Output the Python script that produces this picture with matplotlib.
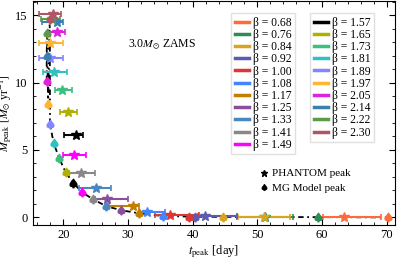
import matplotlib
matplotlib.use('Agg')
import matplotlib.pyplot as plt
from matplotlib.lines import Line2D
from matplotlib.ticker import MultipleLocator
from matplotlib.textpath import TextPath
from matplotlib.font_manager import FontProperties
from matplotlib.path import Path

plt.rcParams['font.family'] = ['Liberation Serif', 'DejaVu Serif']
plt.rcParams['mathtext.fontset'] = 'stix'

betas = [0.68, 0.76, 0.84, 0.92, 1.00, 1.08, 1.17, 1.25, 1.33, 1.41, 1.49,
         1.57, 1.65, 1.73, 1.81, 1.89, 1.97, 2.05, 2.14, 2.22, 2.30]
colors = ['#ff6a3d', '#2e8b57', '#d9a520', '#5b5bb0', '#e03535', '#3f86ff',
          '#c07f00', '#8a4f9c', '#4a86c0', '#888888', '#ff00ff',
          '#000000', '#b0b000', '#3cbf80', '#30c0c0', '#8585ff', '#ffb531',
          '#e020e0', '#3a80ad', '#5a9a4a', '#b05565']

# PHANTOM peak (star) with horizontal error range
star_t = [63.4, 51.2, 51.0, 41.9, 36.5, 32.9, 30.7, 26.7, 25.0, 22.8, 21.65,
          21.96, 20.77, 19.75, 18.6, 17.94, 17.94, 18.98, 18.98, 18.25, 18.45]
star_lo = [60.1, 46.8, 47.0, 40.8, 34.2, 31.75, 27.1, 24.9, 22.4, 20.8, 19.9,
           20.1, 19.5, 18.7, 16.8, 16.3, 16.3, 17.6, 16.7, 16.5, 16.3]
star_hi = [69.1, 55.5, 55.0, 46.8, 41.0, 35.8, 31.75, 29.95, 27.3, 24.9, 23.5,
           23.05, 22.15, 21.3, 20.5, 19.9, 20.0, 20.25, 20.0, 19.5, 19.6]
star_M = [0.0, 0.02, 0.03, 0.1, 0.17, 0.41, 0.84, 1.36, 2.17, 3.28, 4.61,
          6.1, 7.8, 9.48, 10.79, 11.85, 12.93, 13.75, 14.49, 14.74, 15.06]

# MG model peak (spade)
mg_t = [70.2, 59.4, 44.7, 40.4, 39.5, 35.46, 31.75, 28.87, 26.6, 24.54, 22.92,
        21.55, 20.34, 19.37, 18.49, 17.94, 17.64, 17.43, 17.43, 17.48, 17.9]
mg_M = [0.0, 0.02, 0.04, 0.05, 0.06, 0.1, 0.3, 0.54, 0.84, 1.36, 1.86,
        2.54, 3.36, 4.37, 5.53, 6.91, 8.39, 10.1, 12.0, 13.65, 14.7]

# spade marker path built from the DejaVu Sans glyph
_tp = TextPath((0, 0), '\u2660', size=10, prop=FontProperties(family='DejaVu Sans'))
_ext = _tp.get_extents()
_cx, _cy = (_ext.x0 + _ext.x1) / 2, (_ext.y0 + _ext.y1) / 2
spade = Path(_tp.vertices - [_cx, _cy], _tp.codes)

fig = plt.figure(figsize=(3.97, 2.59), dpi=100)
ax = fig.add_axes([0.082, 0.133, 0.913, 0.863])

order = sorted(range(len(betas)), key=lambda i: mg_t[i])
ax.plot([mg_t[i] for i in order], [mg_M[i] for i in order], color='black',
        lw=1.3, ls=(0, (3, 2, 1, 2)), zorder=1)

handles = []
for i, b in enumerate(betas):
    c = colors[i]
    ax.errorbar([star_t[i]], [star_M[i]],
                xerr=[[star_t[i] - star_lo[i]], [star_hi[i] - star_t[i]]],
                fmt='*', color=c, ms=7.5, lw=1.5, capsize=2.5, capthick=1.2,
                zorder=3)
    ax.plot([mg_t[i]], [mg_M[i]], marker=spade, color=c, ms=7.5,
            ls='none', zorder=4)
    handles.append(Line2D([], [], color=c, lw=2.5, label=f'\u03b2 = {b:.2f}'))

ax.set_xlim(15.24, 71.3)
ax.set_ylim(-0.53, 16.04)
ax.xaxis.set_major_locator(MultipleLocator(10))
ax.xaxis.set_minor_locator(MultipleLocator(2))
ax.yaxis.set_major_locator(MultipleLocator(5))
ax.yaxis.set_minor_locator(MultipleLocator(1))
ax.tick_params(which='both', direction='in', top=True, right=True, labelsize=9)
ax.tick_params(which='major', length=4)
ax.tick_params(which='minor', length=2)

ax.set_xlabel(r'$t_{\rm peak}$ [day]', fontsize=9, labelpad=1)
ax.set_ylabel(r'$\dot{M}_{\rm peak}$ [$M_{\odot}$ yr$^{-1}$]', fontsize=8.5,
              labelpad=1)

ax.text(0.263, 0.803, r'3.0$M_{\odot}$ ZAMS', transform=ax.transAxes,
        fontsize=8.5, ha='left', va='center')

leg_kw = dict(fontsize=8.4, labelspacing=0.02, handlelength=1.25,
              handletextpad=0.35, borderpad=0.3, borderaxespad=0,
              frameon=True, fancybox=False, framealpha=1, edgecolor='#e0e0e0')
leg1 = ax.legend(handles=handles[:11], loc='upper left',
                 bbox_to_anchor=(0.548, 0.946), **leg_kw)
ax.add_artist(leg1)
leg2 = ax.legend(handles=handles[11:], loc='upper left',
                 bbox_to_anchor=(0.766, 0.946), **leg_kw)
ax.add_artist(leg2)

mk = [Line2D([], [], marker='*', color='black', ls='none', ms=5,
             label='PHANTOM peak'),
      Line2D([], [], marker=spade, color='black', ls='none', ms=5,
             label='MG Model peak')]
ax.legend(handles=mk, loc='upper left', bbox_to_anchor=(0.615, 0.27),
          fontsize=8, frameon=False, handlelength=0.8, handletextpad=0.3,
          labelspacing=0.4, borderaxespad=0)

fig.savefig('out.png', dpi=100)
